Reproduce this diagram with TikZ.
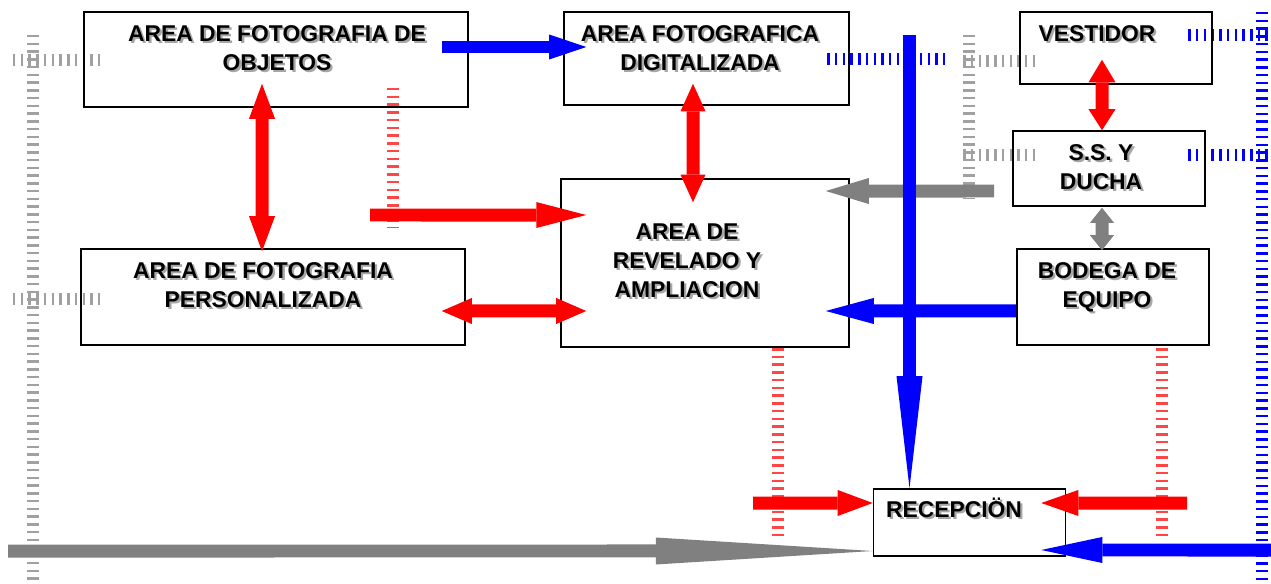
\documentclass[tikz,border=0pt]{standalone}
\usepackage{fontspec}
\setmainfont{Liberation Sans}
\usepackage{tikz}
\usetikzlibrary{arrows.meta, positioning, calc}
\usepackage{xcolor}
\definecolor{rojo}{RGB}{255, 0, 0}
\definecolor{rojoClaro}{RGB}{255, 70, 70}
\definecolor{azul}{RGB}{0, 0, 255}
\definecolor{gris}{RGB}{128, 128, 128}
\definecolor{grisClaro}{RGB}{160, 160, 160}
\newcommand\sombra[1]{\makebox[0pt][l]{\kern1.3pt\raisebox{-1.3pt}{\color{black!35}#1}}#1}

\begin{document}
\begin{tikzpicture}[
    x=0.02cm, y=-0.02cm,
    caja/.style={rectangle, draw=black, line width=0.9pt, inner sep=0pt},
    rotulo/.style={font=\fontsize{13}{16.5}\selectfont\bfseries, align=center, inner sep=0pt, anchor=north},
    flecha/.style={line width=0.26cm},
    marca/.style={line width=0.24cm, dash pattern=on 0.05cm off 0.105cm},
    punta/.tip={Triangle[line width=0pt, length=0.7cm, width=0.52cm]},
    >=punta
]
\useasboundingbox (0,0) rectangle (1271,584);

% lineas de marcas
\draw[marca, grisClaro] (33,35) -- (33,582);
\draw[marca, grisClaro] (13,60) -- (100,60);
\draw[marca, grisClaro] (13,299) -- (100,299);
\draw[marca, rojoClaro] (393,88) -- (393,228);
\draw[marca, rojoClaro] (778,348) -- (778,537);
\draw[marca, rojoClaro] (1161.5,348) -- (1161.5,537);
\draw[marca, azul] (827,59) -- (945,59);
\draw[marca, grisClaro] (969,35) -- (969,198);
\draw[marca, grisClaro] (963,61) -- (1037,61);
\draw[marca, grisClaro] (963,155) -- (1037,155);
\draw[marca, azul] (1188,35) -- (1271,35);
\draw[marca, azul] (1188,155) -- (1271,155);
\draw[marca, azul] (1261.5,12) -- (1261.5,584);

% areas
\node[caja, minimum width=7.68cm, minimum height=1.9cm]  (obj)  at (276,59.5)  {};
\node[caja, minimum width=5.7cm,  minimum height=1.86cm] (dig)  at (706.5,58.5) {};
\node[caja, minimum width=3.84cm, minimum height=1.44cm] (vest) at (1116,48)   {};
\node[caja, minimum width=3.84cm, minimum height=1.5cm]  (ssd)  at (1109,168.5) {};
\node[caja, minimum width=7.68cm, minimum height=1.92cm] (pers) at (273,297)   {};
\node[caja, minimum width=5.76cm, minimum height=3.36cm] (rev)  at (705,263)   {};
\node[caja, minimum width=3.84cm, minimum height=1.92cm] (bod)  at (1113,297)  {};
\node[caja, minimum width=3.84cm, minimum height=1.34cm] (rec)  at (969.5,522.5) {};

\node[rotulo] (t-obj)  at (277,25)  {\sombra{AREA DE FOTOGRAFIA DE}\\\sombra{OBJETOS}};
\node[rotulo] (t-dig)  at (700,25)  {\sombra{AREA FOTOGRAFICA}\\\sombra{DIGITALIZADA}};
\node[rotulo] (t-vest) at (1097,25) {\sombra{VESTIDOR}};
\node[rotulo] (t-ssd)  at (1101,144) {\sombra{S.S. Y}\\\sombra{DUCHA}};
\node[rotulo] (t-pers) at (263,262) {\sombra{AREA DE FOTOGRAFIA}\\\sombra{PERSONALIZADA}};
\node[rotulo] (t-rev)  at (687,223) {\sombra{AREA DE}\\\sombra{REVELADO Y}\\\sombra{AMPLIACION}};
\node[rotulo] (t-bod)  at (1107,262) {\sombra{BODEGA DE}\\\sombra{EQUIPO}};
\node[rotulo, anchor=base] (t-rec) at (954,517) {\sombra{RECEPCIÖN}};

% extremos libres
\coordinate (inicioRojo)   at (370,215);
\coordinate (inicioGris)   at (994,191);
\coordinate (inicioAzul)   at (909.5,35);
\coordinate (inicioRec)    at (753,503);
\coordinate (inicioRecDer) at (1187,503);
\coordinate (inicioLargo)  at (8,551);
\coordinate (inicioAbajo)  at (1271,550);

% flechas
\draw[flecha, azul, -{punta[length=0.74cm, width=0.5cm]}] ([xshift=-0.54cm, yshift=0.25cm]obj.east) -- ([xshift=0.46cm, yshift=0.23cm]dig.west);
\draw[flecha, rojo, <->] ([xshift=-0.28cm, yshift=0.48cm]obj.south) -- ([xshift=-0.22cm, yshift=-0.06cm]pers.north);
\draw[flecha, rojo, -{punta[length=1cm]}] (inicioRojo) -- ([xshift=0.52cm, yshift=0.96cm]rev.west);
\draw[flecha, rojo, {punta[length=0.6cm]}-{punta[length=0.6cm]}] ([xshift=-0.48cm, yshift=-0.28cm]pers.east) -- ([xshift=0.52cm, yshift=-0.96cm]rev.west);
\draw[flecha, rojo, {punta[length=0.55cm, width=0.5cm]}-{punta[length=0.55cm, width=0.5cm]}] ([xshift=-0.27cm, yshift=0.44cm]dig.south) -- ([xshift=-0.24cm, yshift=-0.48cm]rev.north);
\draw[flecha, gris, -{punta[length=0.86cm]}] (inicioGris) -- ([xshift=-0.48cm, yshift=1.44cm]rev.east);
\draw[flecha, azul, -{punta[length=2.24cm]}] (inicioAzul) -- (inicioAzul |- rec.north);
\draw[flecha, azul, -{punta[length=0.96cm]}] ([yshift=-0.28cm]bod.west) -- ([xshift=-0.48cm, yshift=-0.96cm]rev.east);
\draw[flecha, gris, {punta[length=0.3cm, width=0.48cm]}-{punta[length=0.3cm, width=0.48cm]}] ([xshift=-0.14cm, yshift=-0.02cm]ssd.south) -- ([xshift=-0.22cm, yshift=-0.04cm]bod.north);
\draw[flecha, rojo, {punta[length=0.45cm, width=0.54cm]}-{punta[length=0.42cm, width=0.54cm]}] ([xshift=-0.28cm, yshift=0.5cm]vest.south) -- ([xshift=-0.14cm]ssd.north);
\draw[flecha, rojo, ->] (inicioRec) -- ([yshift=0.39cm]rec.west);
\draw[flecha, rojo, -{punta[length=0.74cm]}] (inicioRecDer) -- ([xshift=-0.5cm, yshift=0.39cm]rec.east);
\draw[flecha, gris, -{punta[length=4.34cm, width=0.54cm]}] (inicioLargo) -- ([yshift=-0.57cm]rec.west);
\draw[flecha, azul, -{punta[length=1.22cm]}] (inicioAbajo) -- ([xshift=-0.5cm, yshift=-0.55cm]rec.east);

\end{tikzpicture}
\end{document}
